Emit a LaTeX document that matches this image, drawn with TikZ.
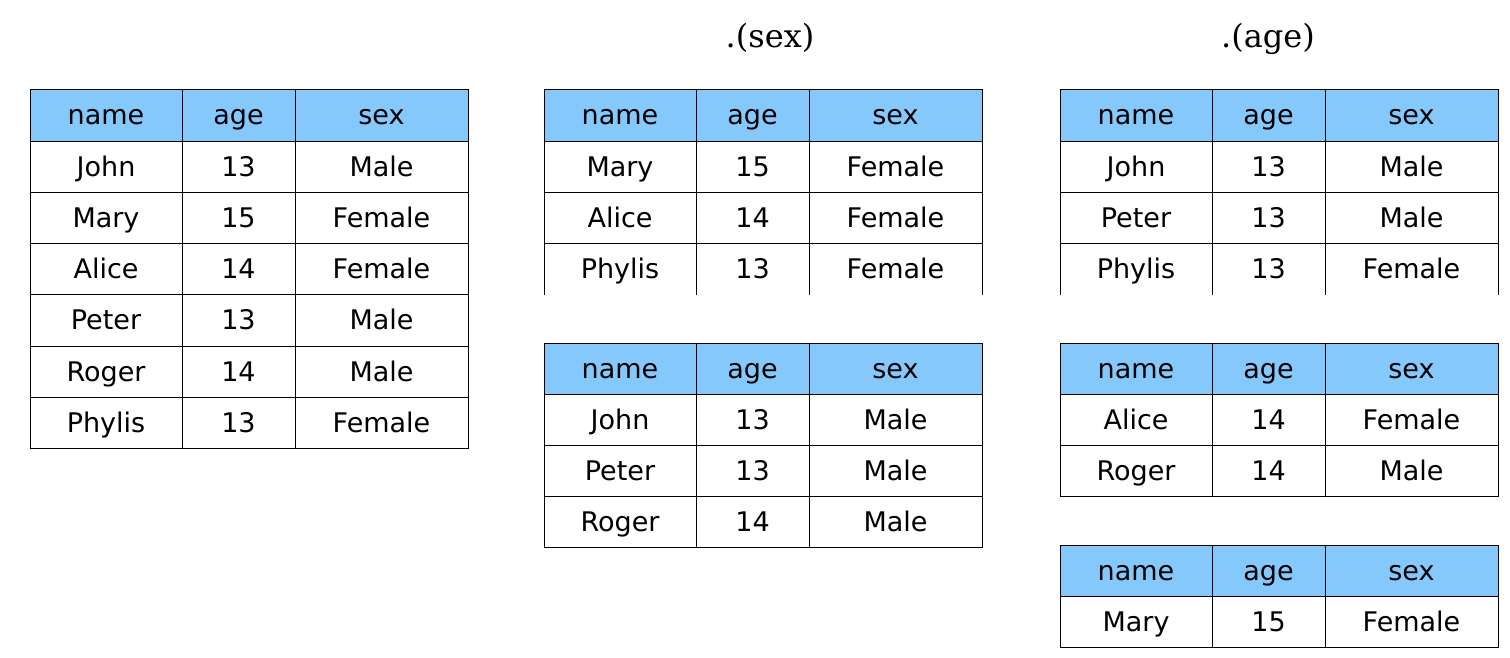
\documentclass[tikz,border=0pt]{standalone}
\usepackage{fontspec}
\setmainfont{DejaVu Sans}
\newfontfamily\titlefont{DejaVu Serif}
\definecolor{headblue}{RGB}{133,201,252}

\tikzset{
  cell/.style={anchor=base, inner sep=0pt, font=\fontsize{27}{30}\selectfont},
  grid/.style={line width=1pt, line cap=rect},
  title/.style={anchor=base, inner sep=0pt, font=\titlefont\fontsize{32}{36}\selectfont},
}

% one data frame: name, x, y, body rows, number of rows, last horizontal line
\newcommand{\dftable}[6]{%
  \begin{scope}[shift={(#2,#3)}]
    % header band
    \fill[headblue] (0,0) rectangle (438,51.2);
    \node[cell] (#1-name) at (76,35) {name};
    \node[cell] (#1-age) at (208.5,35) {age};
    \node[cell] (#1-sex) at (351.5,35) {sex};
    % body rows
    \foreach \nm/\ag/\sx [count=\i] in {#4} {
      \node[cell] (#1-\i-name) at (76,{35+51.2*\i}) {\nm};
      \node[cell] (#1-\i-age) at (208.5,{35+51.2*\i}) {\ag};
      \node[cell] (#1-\i-sex) at (351.5,{35+51.2*\i}) {\sx};
    }
    % grid lines
    \foreach \cx in {0,152,265,438}
      \draw[grid] (\cx,0) -- (\cx,{51.2*(#5+1)});
    \foreach \k in {0,...,#6}
      \draw[grid] (0,{51.2*\k}) -- (438,{51.2*\k});
  \end{scope}}

\begin{document}
\begin{tikzpicture}[x=1pt, y=-1pt]

    \useasboundingbox (0,0) rectangle (1510,658);

    % Group titles
    \node[title] (bysex) at (770,48) {.(sex)};
    \node[title] (byage) at (1268,48) {.(age)};

    % Original data frame
    \dftable{df}{30}{90}{John/13/Male, Mary/15/Female, Alice/14/Female,
      Peter/13/Male, Roger/14/Male, Phylis/13/Female}{6}{7}

    % Split by sex
    \dftable{female}{544}{90}{Mary/15/Female, Alice/14/Female, Phylis/13/Female}{3}{3}
    \dftable{male}{544}{343}{John/13/Male, Peter/13/Male, Roger/14/Male}{3}{4}

    % Split by age
    \dftable{agea}{1060}{90}{John/13/Male, Peter/13/Male, Phylis/13/Female}{3}{3}
    \dftable{ageb}{1060}{343}{Alice/14/Female, Roger/14/Male}{2}{3}
    \dftable{agec}{1060}{545}{Mary/15/Female}{1}{2}

\end{tikzpicture}
\end{document}
